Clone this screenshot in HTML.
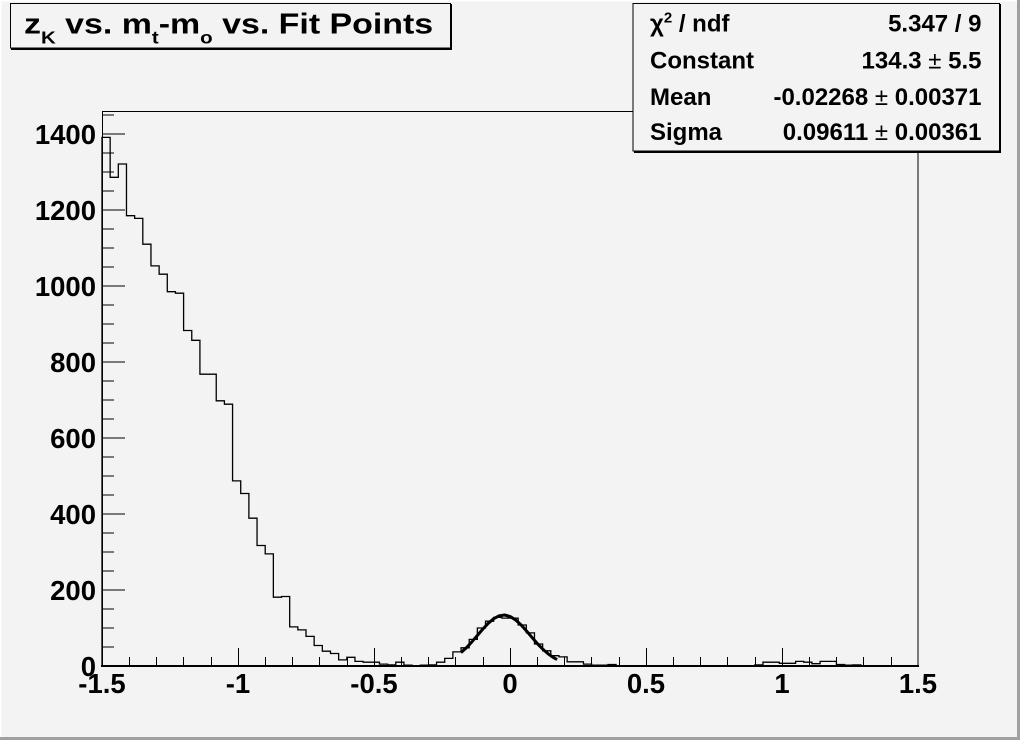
<!DOCTYPE html>
<html><head><meta charset="utf-8"><style>
html,body{margin:0;padding:0;background:#f3f3f3;}
svg{display:block;}
text{font-family:"Liberation Sans",Arial,sans-serif;font-weight:bold;fill:#000;}
</style></head><body>
<svg width="1020" height="740" viewBox="0 0 1020 740" xmlns="http://www.w3.org/2000/svg">
<rect x="0" y="0" width="1020" height="740" fill="#f3f3f3"/>
<!-- canvas border -->
<rect x="0" y="0" width="1020" height="1.5" fill="#ffffff"/>
<rect x="0" y="0" width="1.5" height="740" fill="#ffffff"/>
<rect x="1017" y="0" width="3" height="740" fill="#a0a0a0"/>
<rect x="0" y="737" width="1020" height="3" fill="#a0a0a0"/>

<!-- frame -->
<rect x="102.5" y="111.5" width="815.5" height="554.5" fill="none" stroke="#000" stroke-width="1"/>
<line x1="101" y1="666" x2="919" y2="666" stroke="#000" stroke-width="2"/>

<!-- y ticks -->
<path d="M102,666H125M102,590H125M102,514H125M102,438H125M102,362H125M102,286H125M102,210H125M102,134H125
M102,647H114M102,628H114M102,609H114M102,571H114M102,552H114M102,533H114M102,495H114M102,476H114M102,457H114M102,419H114M102,400H114M102,381H114M102,343H114M102,324H114M102,305H114M102,267H114M102,248H114M102,229H114M102,191H114M102,172H114M102,153H114M102,115H114" stroke="#000" stroke-width="1" fill="none"/>
<!-- x ticks -->
<path d="M238.5,666V648M374.5,666V648M510.5,666V648M646.5,666V648M782.5,666V648
M129.5,666V657M156.5,666V657M183.5,666V657M211.5,666V657M265.5,666V657M292.5,666V657M319.5,666V657M347.5,666V657M401.5,666V657M428.5,666V657M455.5,666V657M483.5,666V657M537.5,666V657M564.5,666V657M591.5,666V657M619.5,666V657M673.5,666V657M700.5,666V657M727.5,666V657M755.5,666V657M809.5,666V657M836.5,666V657M863.5,666V657M891.5,666V657" stroke="#000" stroke-width="1" fill="none"/>

<!-- histogram -->
<path d="M102,666 V137.4 H110.16 V177.3 H118.32 V164 H126.48 V215.7 H134.64 V218.4 H142.8 V244.2 H150.96 V265.9 H159.12 V274.2 H167.28 V291.7 H175.44 V293.2 H183.6 V330.5 H191.76 V340.3 H199.92 V374.2 H216.24 V400.8 H224.4 V404.2 H232.56 V480.9 H240.72 V493.5 H248.88 V518.2 H257.04 V545.5 H265.2 V553.9 H273.36 V597.2 H281.52 V596.5 H289.68 V626.9 H297.84 V629.9 H306 V636.4 H314.16 V645.5 H322.32 V651.2 H330.48 V653.5 H338.64 V659.9 H346.8 V657.3 H354.96 V661.4 H363.12 V662.2 H379.44 V664.1 H387.6 V664.9 H395.76 V662.2 H403.92 V665.2 H412.08 V665.6 H420.24 V665.2 H428.4 V664.9 H436.56 V662.2 H444.72 V658.4 H452.88 V651.9 H461.04 V647.8 H469.2 V639.4 H477.36 V628 H485.52 V621.2 H493.68 V617.4 H501.84 V618.1 H518.16 V625 H526.32 V632.9 H534.48 V644 H542.64 V650.8 H550.8 V655.7 H558.96 V656.9 H567.12 V661.8 H583.44 V664.1 H591.6 V665.2 H607.92 V664.5 H616.08 V666 H746.64 V665.6 H754.8 V664.9 H762.96 V662.2 H779.28 V663.3 H795.6 V661.4 H803.76 V662.2 H811.92 V663.7 H820.08 V661.4 H836.4 V664.5 H844.56 V665.2 H852.72 V664.9 H860.88 V666 H918" fill="none" stroke="#000" stroke-width="1.3"/>

<!-- gaussian fit -->
<polyline points="461,652.6 466.5,647.6 471.9,641.8 477.4,635.4 482.8,629.1 488.2,623.3 493.7,618.7 499.1,615.8 504.6,615 510,616.4 515.4,619.8 520.9,624.7 526.3,630.7 531.8,637.2 537.2,643.4 542.6,649 548.1,653.8 553.5,657.6 557.1,659.6" fill="none" stroke="#000" stroke-width="3" stroke-linejoin="round"/>

<!-- y labels -->
<g font-size="27.5" text-anchor="end">
<text x="96" y="676">0</text>
<text x="96" y="600">200</text>
<text x="96" y="524">400</text>
<text x="96" y="448">600</text>
<text x="96" y="372">800</text>
<text x="96" y="296">1000</text>
<text x="96" y="220">1200</text>
<text x="96" y="144">1400</text>
</g>
<!-- x labels -->
<g font-size="27.5" text-anchor="middle">
<text x="102" y="693">-1.5</text>
<text x="238" y="693">-1</text>
<text x="374" y="693">-0.5</text>
<text x="510" y="693">0</text>
<text x="646" y="693">0.5</text>
<text x="782" y="693">1</text>
<text x="918" y="693">1.5</text>
</g>

<!-- title box -->
<rect x="10.5" y="3.5" width="440" height="44.5" fill="#f3f3f3" stroke="#000" stroke-width="1"/>
<line x1="451" y1="4" x2="451" y2="50" stroke="#000" stroke-width="2"/>
<line x1="11" y1="49" x2="452" y2="49" stroke="#000" stroke-width="2"/>
<text transform="translate(24,33.5) scale(1.17,1)" font-size="29">z<tspan font-size="17.5" dy="10">K</tspan><tspan dy="-10"> vs. m</tspan><tspan font-size="17.5" dy="10">t</tspan><tspan dy="-10">-m</tspan><tspan font-size="17.5" dy="10">o</tspan><tspan dy="-10"> vs. Fit Points</tspan></text>

<!-- stats box -->
<rect x="633" y="3.5" width="366.5" height="147.5" fill="#f3f3f3" stroke="#000" stroke-width="1"/>
<line x1="1000" y1="4" x2="1000" y2="153" stroke="#000" stroke-width="2"/>
<line x1="634" y1="152" x2="1001" y2="152" stroke="#000" stroke-width="2"/>
<g font-size="24">
<text x="650" y="31.5">χ<tspan font-size="15" dy="-9">2</tspan><tspan dy="9"> / ndf</tspan></text>
<text x="650" y="68.3">Constant</text>
<text x="650" y="105">Mean</text>
<text x="650" y="140">Sigma</text>
</g>
<g font-size="24" text-anchor="end">
<text x="981.5" y="31.5">5.347 / 9</text>
<text x="981.5" y="68.3">134.3<tspan font-weight="normal"> ± </tspan>5.5</text>
<text x="981.5" y="105">-0.02268<tspan font-weight="normal"> ± </tspan>0.00371</text>
<text x="981.5" y="140">0.09611<tspan font-weight="normal"> ± </tspan>0.00361</text>
</g>
</svg>
</body></html>
